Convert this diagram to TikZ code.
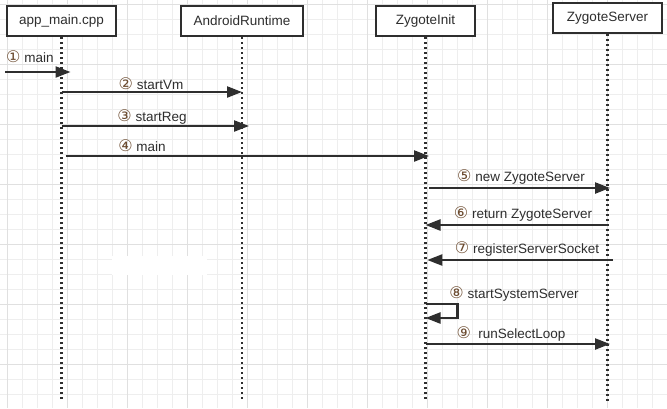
\documentclass[tikz,border=0pt]{standalone}
\usepackage{fontspec}
\setmainfont{Liberation Sans}
\newfontfamily\circfont{DejaVu Sans}
\usetikzlibrary{arrows.meta,calc}
\definecolor{InkGray}{HTML}{2E2E2E}
\definecolor{GridMinor}{HTML}{EEEEEE}
\definecolor{GridMajor}{HTML}{E0E0E0}
\definecolor{NumBrown}{HTML}{6B4A2E}
\newcommand{\circno}[1]{{\circfont\fontsize{16}{16}\selectfont\color{NumBrown}#1}}

\begin{document}
\begin{tikzpicture}[x=1pt, y=-1pt,
    actor/.style={rectangle, draw=InkGray, line width=2.2pt, fill=white, minimum height=30pt, inner sep=0pt, font=\fontsize{13.5}{16}\selectfont, text=InkGray},
    life/.style={InkGray, line width=2.2pt, dash pattern=on 2pt off 3pt},
    msg/.style={InkGray, line width=2.3pt, -{Triangle[length=15pt, width=11pt]}},
    lbl/.style={anchor=base, inner sep=0pt, font=\fontsize{13.5}{16}\selectfont, text=InkGray}
  ]
  % background and grid
  \useasboundingbox (0,0) rectangle (667,408);
  \fill[white] (0,0) rectangle (667,408);
  \foreach \x in {7.3,22.3,...,667} \draw[GridMinor, line width=1pt] (\x,0) -- (\x,408);
  \foreach \y in {4.3,19.3,...,408} \draw[GridMinor, line width=1pt] (0,\y) -- (667,\y);
  \foreach \x in {7.3,67.3,...,667} \draw[GridMajor, line width=1pt] (\x,0) -- (\x,408);
  \foreach \y in {4.3,64.3,...,408} \draw[GridMajor, line width=1pt] (0,\y) -- (667,\y);
  \fill[white] (112,256) rectangle (207,275);

  % lifeline heads
  \node[actor, minimum width=109pt] (app) at (61.5,21) {app\_main.cpp};
  \node[actor, minimum width=122pt] (art) at (242,21) {AndroidRuntime};
  \node[actor, minimum width=99pt] (zinit) at (425.5,21) {ZygoteInit};
  \node[actor, minimum width=109pt] (zserver) at (607.5,18) {ZygoteServer};

  % lifelines
  \draw[life] (app.south) -- (app.south |- 0,402);
  \draw[life] (art.south) -- (art.south |- 0,402);
  \draw[life] (zinit.south) -- (zinit.south |- 0,402);
  \draw[life] (zserver.south) -- (zserver.south |- 0,402);

  % messages
  \coordinate (entry) at (5,72);
  \draw[msg, shorten >=-9pt] (entry) -- (app.south |- 0,72);
  \node[lbl, anchor=base west] (m1) at (6,62) {\circno{①} main};

  \draw[msg] (app.south |- 0,92) -- (art.south |- 0,92);
  \node[lbl] (m2) at (151,89) {\circno{②} startVm};

  \draw[msg, shorten >=-7pt] (app.south |- 0,126) -- (art.south |- 0,126);
  \node[lbl] (m3) at (152,121) {\circno{③} startReg};

  \draw[msg, shorten <=4pt, shorten >=-3.5pt] (app.south |- 0,156) -- (zinit.south |- 0,156);
  \node[lbl] (m4) at (142,151) {\circno{④} main};

  \draw[msg, shorten <=3.5pt, shorten >=-2.5pt] (zinit.south |- 0,188) -- (zserver.south |- 0,188);
  \node[lbl] (m5) at (521,181) {\circno{⑤} new ZygoteServer};

  \draw[msg] (zserver.south |- 0,225) -- (zinit.south |- 0,225);
  \node[lbl] (m6) at (523,218) {\circno{⑥} return ZygoteServer};

  \draw[msg, shorten <=-5.5pt, shorten >=1.8pt] (zserver.south |- 0,260) -- (zinit.south |- 0,260);
  \node[lbl] (m7) at (527,253) {\circno{⑦} registerServerSocket};

  \draw[msg] (zinit.south |- 0,304) -- ++(32,0) -- ++(0,14) -- (zinit.south |- 0,318);
  \node[lbl] (m8) at (514,298) {\circno{⑧} startSystemServer};

  \draw[msg, shorten >=-2.5pt] (zinit.south |- 0,344) -- (zserver.south |- 0,344);
  \node[lbl] (m9) at (511,338) {\circno{⑨}\ \ runSelectLoop};
\end{tikzpicture}
\end{document}
